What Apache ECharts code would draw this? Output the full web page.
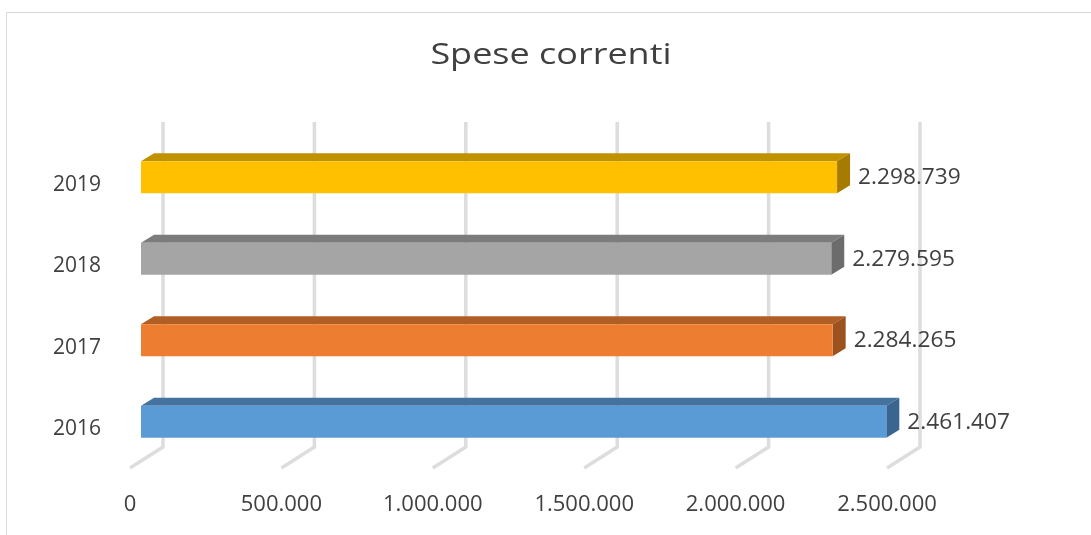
<!DOCTYPE html>
<html>
<head>
<meta charset="utf-8">
<title>Spese correnti</title>
<script src="https://cdn.jsdelivr.net/npm/echarts@6/dist/echarts.min.js"></script>
<style>
  html, body { margin: 0; padding: 0; background: #fff; }
  #chart { width: 1091px; height: 535px; }
</style>
</head>
<body>
<div id="chart"></div>
<script>
// dati
const years = ['2016', '2017', '2018', '2019'];
const values = [2461407, 2284265, 2279595, 2298739];
const ticks = [0, 500000, 1000000, 1500000, 2000000, 2500000];

// colori: fronte, sopra, lato
const frontColors = ['#5B9BD5', '#ED7D31', '#A5A5A5', '#FFC000'];
const topColors = ['#44739F', '#B15E24', '#7C7C7C', '#C09100'];
const sideColors = ['#3A6590', '#9C521F', '#6C6C6C', '#A67C00'];

const FONT = '"Open Sans", "DejaVu Sans", sans-serif';
const TEXT = '#404040';
// profondita 3D (pixel)
const DX = 13, DY = 8;
const FLOOR_DX = 33, FLOOR_DY = 21;

function fmt(v) {
  return String(v).replace(/\B(?=(\d{3})+(?!\d))/g, '.');
}

const myChart = echarts.init(document.getElementById('chart'), null, { renderer: 'canvas' });

const option = {
  backgroundColor: '#fff',
  animation: false,
  graphic: [
    {
      type: 'rect',
      shape: { x: 6.5, y: 12.5, width: 1200, height: 700 },
      style: { fill: 'none', stroke: '#d9d9d9', lineWidth: 1 },
      silent: true
    },
    {
      // titolo (un po' allargato come nell'originale)
      type: 'text',
      x: 551,
      y: 55,
      scaleX: 1.2,
      style: {
        text: 'Spese correnti',
        fontFamily: FONT, fontSize: 30, fill: TEXT,
        align: 'center', verticalAlign: 'middle'
      },
      silent: true
    }
  ],
  grid: [
    // parete di fondo
    { left: 163, right: 171, top: 122, bottom: 88 },
    // barre (faccia frontale)
    { left: 141, right: 193, top: 136, bottom: 73 },
    // bordo anteriore del pavimento, per le etichette
    { left: 130, right: 204, top: 122, bottom: 67 },
    // etichette delle categorie (spostate in basso)
    { left: 141, right: 193, top: 144, bottom: 65 }
  ],
  xAxis: [
    { gridIndex: 0, type: 'value', min: 0, max: 2500000, interval: 500000, show: false },
    { gridIndex: 1, type: 'value', min: 0, max: 2500000, interval: 500000, show: false },
    {
      gridIndex: 2, type: 'value', min: 0, max: 2500000, interval: 500000,
      axisLine: { show: false }, axisTick: { show: false }, splitLine: { show: false },
      axisLabel: { margin: 26, fontFamily: FONT, fontSize: 22, color: TEXT, formatter: fmt }
    },
    { gridIndex: 3, type: 'value', min: 0, max: 2500000, show: false }
  ],
  yAxis: [
    { gridIndex: 0, type: 'value', min: 0, max: 1, show: false },
    { gridIndex: 1, type: 'category', data: years, show: false },
    { gridIndex: 2, type: 'value', min: 0, max: 1, show: false },
    {
      gridIndex: 3, type: 'category', data: years,
      axisLine: { show: false }, axisTick: { show: false }, splitLine: { show: false },
      axisLabel: { margin: 40, fontFamily: FONT, fontSize: 21, color: TEXT }
    }
  ],
  series: [
    {
      // linee della griglia con piede sul pavimento
      type: 'custom',
      xAxisIndex: 0,
      yAxisIndex: 0,
      silent: true,
      data: ticks.map(t => [t]),
      renderItem: function (params, api) {
        const top = api.coord([api.value(0), 1]);
        const bot = api.coord([api.value(0), 0]);
        return {
          type: 'polyline',
          shape: { points: [top, bot, [bot[0] - FLOOR_DX, bot[1] + FLOOR_DY]] },
          style: { stroke: '#dddddd', lineWidth: 3.5, fill: null }
        };
      }
    },
    {
      // barre 3D
      type: 'custom',
      xAxisIndex: 1,
      yAxisIndex: 1,
      silent: true,
      data: values.map((v, i) => [v, i]),
      encode: { x: 0, y: 1 },
      renderItem: function (params, api) {
        const i = api.value(1);
        const start = api.coord([0, i]);
        const end = api.coord([api.value(0), i]);
        const h = api.size([0, 1])[1] * 0.39;
        const x0 = start[0], x1 = end[0];
        const y0 = end[1] - h / 2 + 0.5, y1 = end[1] + h / 2 + 0.5;
        const idx = params.dataIndex;
        return {
          type: 'group',
          children: [
            {
              type: 'polygon',
              shape: { points: [[x0, y0], [x0 + DX, y0 - DY], [x1 + DX, y0 - DY], [x1, y0]] },
              style: { fill: topColors[idx] }
            },
            {
              type: 'polygon',
              shape: { points: [[x1, y0], [x1 + DX, y0 - DY], [x1 + DX, y1 - DY], [x1, y1]] },
              style: { fill: sideColors[idx] }
            },
            {
              type: 'rect',
              shape: { x: x0, y: y0, width: x1 - x0, height: h },
              style: { fill: frontColors[idx] }
            },
            {
              type: 'text',
              x: x1 + DX + 8,
              y: end[1] + 1.5,
              scaleX: 1.08,
              style: {
                text: fmt(api.value(0)),
                fontFamily: FONT,
                fontSize: 21,
                fill: TEXT,
                verticalAlign: 'middle',
                align: 'left'
              }
            }
          ]
        };
      }
    }
  ]
};

myChart.setOption(option);
</script>
</body>
</html>
